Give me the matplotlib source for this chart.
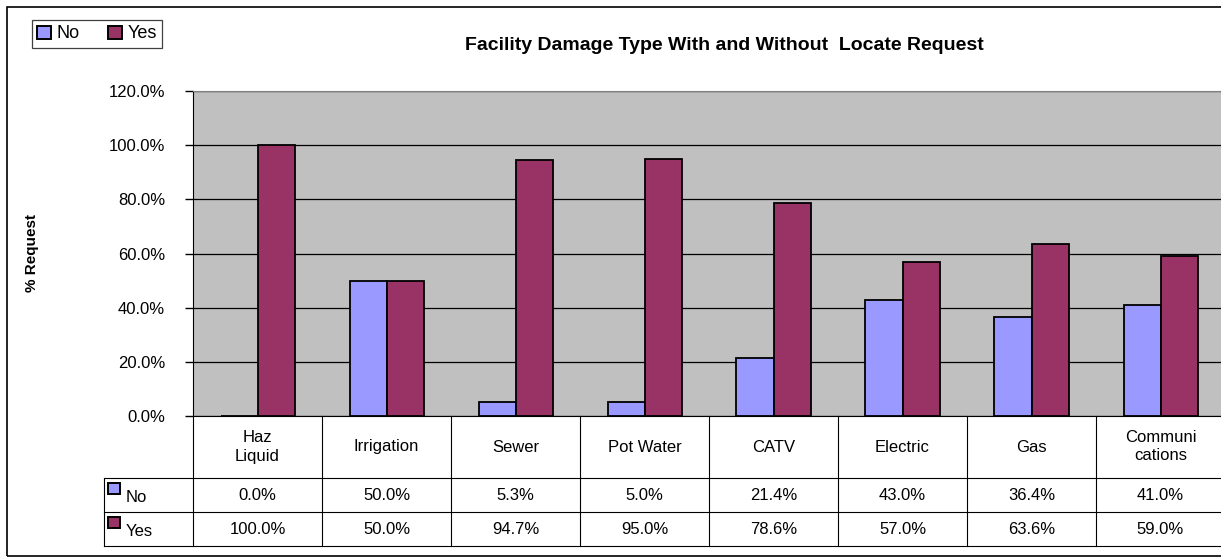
import numpy as np
import matplotlib
matplotlib.use("Agg")
import matplotlib.pyplot as plt
from matplotlib.patches import Rectangle, Patch
from matplotlib.lines import Line2D

plt.rcParams['font.family'] = ['Liberation Sans', 'DejaVu Sans']

# data
categories = ['Haz\nLiquid', 'Irrigation', 'Sewer', 'Pot Water', 'CATV',
              'Electric', 'Gas', 'Communi\ncations']
no_vals = [0.0, 50.0, 5.3, 5.0, 21.4, 43.0, 36.4, 41.0]
yes_vals = [100.0, 50.0, 94.7, 95.0, 78.6, 57.0, 63.6, 59.0]
series = ['No', 'Yes']
colors = ['#9999FF', '#993366']

W, H = 1221, 557
fig = plt.figure(figsize=(W / 100, H / 100), dpi=100)


def fx(px):
    return px / W


def fy(py):
    return 1 - py / H


# plot area (runs slightly past the right edge like the original)
left, right, top, bottom = 193, 1225, 91, 416
ax = fig.add_axes([fx(left), fy(bottom), fx(right) - fx(left), fy(top) - fy(bottom)])
ax.set_facecolor('#C0C0C0')
n = len(categories)
x = np.arange(n) + 0.5
width = 37 / 129
ax.bar(x - width / 2, no_vals, width, color=colors[0], edgecolor='black', linewidth=1.3, zorder=3)
ax.bar(x + width / 2, yes_vals, width, color=colors[1], edgecolor='black', linewidth=1.3, zorder=3)
ax.set_xlim(0, n)
ax.set_ylim(0, 120)
ax.set_xticks([])
ax.set_yticks(range(0, 121, 20))
ax.set_yticklabels([f"{v:.1f}%" for v in range(0, 121, 20)], fontsize=12)
ax.tick_params(axis='y', length=6, width=1, pad=14)
ax.yaxis.grid(True, color='black', linewidth=0.9, zorder=1)
ax.set_axisbelow(True)
ax.spines['top'].set_color('#808080')
ax.spines['right'].set_color('#808080')

# title, axis label
fig.text(fx(724), fy(45), 'Facility Damage Type With and Without  Locate Request',
         ha='center', va='center', fontsize=14, fontweight='bold')
fig.text(fx(32), fy(253), '% Request', rotation=90, ha='center', va='center',
         fontsize=11, fontweight='bold')

# legend
handles = [Patch(facecolor=c, edgecolor='black', linewidth=1.4) for c in colors]
leg = fig.legend(handles, series, loc='upper left', bbox_to_anchor=(fx(23), fy(11)),
                 ncol=2, fontsize=13, handlelength=0.75, handleheight=0.75,
                 handletextpad=0.3, columnspacing=1.6, borderpad=0.3,
                 fancybox=False, framealpha=1, edgecolor='#404040')
leg.get_frame().set_linewidth(0.9)

# data table
lc = 'black'
lw = 0.8
row_tops = [416, 478, 512, 546]
col_w = (right - left) / n
col_edges = [left + i * col_w for i in range(n + 1)]


def hline(y, x0, x1):
    fig.add_artist(Line2D([fx(x0), fx(x1)], [fy(y), fy(y)], color=lc, linewidth=lw))


def vline(xp, y0, y1):
    fig.add_artist(Line2D([fx(xp), fx(xp)], [fy(y0), fy(y1)], color=lc, linewidth=lw))


for y in row_tops[1:]:
    hline(y, 104, W + 5)
vline(104, 478, 546)
for xe in col_edges:
    vline(xe, 416, 546)

for i, cat in enumerate(categories):
    cx = (col_edges[i] + col_edges[i + 1]) / 2
    fig.text(fx(cx), fy(447), cat, ha='center', va='center', fontsize=12, linespacing=1.25)
    fig.text(fx(cx), fy(495), f"{no_vals[i]:.1f}%", ha='center', va='center', fontsize=12)
    fig.text(fx(cx), fy(529), f"{yes_vals[i]:.1f}%", ha='center', va='center', fontsize=12)

for j, (name, c) in enumerate(zip(series, colors)):
    yc = 495 + j * 34
    fig.add_artist(Rectangle((fx(108), fy(yc - 1)), fx(12), 11 / H, facecolor=c,
                             edgecolor='black', linewidth=1.4, transform=fig.transFigure))
    fig.text(fx(126), fy(yc + 2), name, ha='left', va='center', fontsize=12)

# outer chart border
fig.add_artist(Rectangle((fx(7), fy(556)), 1.0, fy(7) - fy(556), fill=False,
                         edgecolor='black', linewidth=1.2, transform=fig.transFigure))

fig.savefig('out.png', dpi=100)
